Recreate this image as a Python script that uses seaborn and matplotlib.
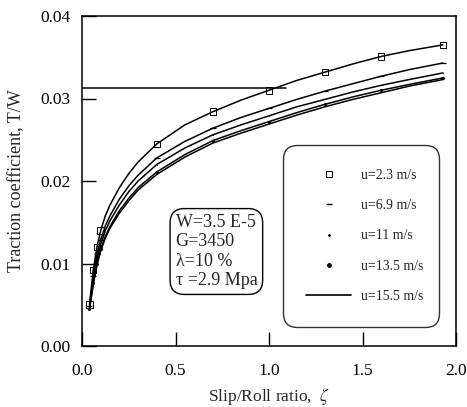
import numpy as np
import pandas as pd
import seaborn as sns
import matplotlib
matplotlib.use("Agg")
import matplotlib.pyplot as plt
from matplotlib.lines import Line2D

# ---- data ----
zeta = [0.04, 0.06, 0.08, 0.10, 0.125, 0.15, 0.20, 0.25, 0.30, 0.40, 0.55, 0.70, 0.85,
        1.00, 1.15, 1.30, 1.45, 1.60, 1.75, 1.93]
t_u23 = [0.0050, 0.0092, 0.0120, 0.0140, 0.0158, 0.0171, 0.0192, 0.0209, 0.0223,
         0.0245, 0.0268, 0.0284, 0.0298, 0.0310, 0.0322, 0.0332, 0.0342, 0.0351,
         0.0358, 0.0365]
t_u69 = [0.0048, 0.0085, 0.0111, 0.0129, 0.0146, 0.0158, 0.0178, 0.0194, 0.0207,
         0.0228, 0.0248, 0.0264, 0.0277, 0.0288, 0.0299, 0.0309, 0.0318, 0.0327,
         0.0335, 0.0343]
t_u11 = [0.0046, 0.0080, 0.0106, 0.0123, 0.0140, 0.0152, 0.0171, 0.0187, 0.0200,
         0.0220, 0.0240, 0.0256, 0.0268, 0.0279, 0.0290, 0.0299, 0.0308, 0.0316,
         0.0323, 0.0331]
t_u135 = [0.0045, 0.0076, 0.0100, 0.0117, 0.0133, 0.0145, 0.0164, 0.0179, 0.0192,
          0.0211, 0.0232, 0.0249, 0.0261, 0.0272, 0.0283, 0.0293, 0.0302, 0.0310,
          0.0317, 0.0325]
t_u155 = [0.0045, 0.0074, 0.0098, 0.0115, 0.0131, 0.0143, 0.0161, 0.0176, 0.0189,
          0.0208, 0.0229, 0.0246, 0.0258, 0.0269, 0.0280, 0.0290, 0.0299, 0.0307,
          0.0315, 0.0323]
marker_zeta = [0.04, 0.06, 0.08, 0.10, 0.40, 0.70, 1.00, 1.30, 1.60, 1.93]
labels = ["u=2.3 m/s", "u=6.9 m/s", "u=11 m/s", "u=13.5 m/s", "u=15.5 m/s"]
hline_y = 0.0313
hline_x = [0.0, 1.09]
x_ticks = [0.0, 0.5, 1.0, 1.5, 2.0]
y_ticks = [0.00, 0.01, 0.02, 0.03, 0.04]
info_text = "W=3.5 E-5\nG=3450\n\u03bb=10 %\n\u03c4 =2.9 Mpa"

series = [t_u23, t_u69, t_u11, t_u135, t_u155]
df = pd.concat([pd.DataFrame({"zeta": zeta, "T": s, "u": lab})
                for s, lab in zip(series, labels)], ignore_index=True)

sns.set_style("ticks")
plt.rcParams["font.family"] = ["Liberation Serif", "DejaVu Serif"]
plt.rcParams["mathtext.fontset"] = "stix"

fig = plt.figure(figsize=(4.67, 4.07), dpi=100)
ax = fig.add_axes([82/467, 1-346/407, (456-82)/467, (346-16)/407])

sns.lineplot(data=df, x="zeta", y="T", units="u", estimator=None,
             color="black", lw=1.1, ax=ax, legend=False)

mstyles = [dict(marker="s", s=22, facecolors="none", edgecolors="black", linewidths=0.7),
           dict(marker="_", s=22, color="black", linewidths=0.9),
           dict(marker=".", s=3, color="black"),
           dict(marker="o", s=6, color="black"),
           None]
for s, lab, ms in zip(series, labels, mstyles):
    if ms is None:
        continue
    sub = pd.DataFrame({"zeta": zeta, "T": s})
    sub = sub[sub["zeta"].isin(marker_zeta)]
    sns.scatterplot(data=sub, x="zeta", y="T", ax=ax, legend=False, **ms)

ax.plot(hline_x, [hline_y, hline_y], color="black", lw=1.1)

ax.set_xlim(0, 2.0)
ax.set_ylim(0, 0.04)
ax.set_xticks(x_ticks)
ax.set_yticks(y_ticks)
ax.set_xticklabels([f"{v:.1f}" for v in x_ticks])
ax.set_yticklabels([f"{v:.2f}" for v in y_ticks])
ax.tick_params(direction="in", length=10, width=1, labelsize=12.5,
               colors="black", top=False, right=False)
ax.tick_params(axis="x", pad=12)
ax.tick_params(axis="y", pad=8)
for sp in ax.spines.values():
    sp.set_visible(True)
    sp.set_color("black")
    sp.set_linewidth(1.1)
ax.set_xlabel("Slip/Roll ratio,  $\\zeta$", fontsize=12.5, labelpad=5)
ax.set_ylabel("Traction coefficient, T/W", fontsize=13, labelpad=11)

ax.text(0.25, 0.40, info_text, transform=ax.transAxes, fontsize=13,
        va="top", ha="left", linespacing=1.18,
        bbox=dict(boxstyle="round,pad=0.3,rounding_size=0.8", fc="white",
                  ec="black", lw=1.0))

handles = [Line2D([], [], ls="none", marker="s", ms=4, mfc="none", mec="black", mew=0.7),
           Line2D([], [], ls="none", marker="_", ms=5, color="black"),
           Line2D([], [], ls="none", marker=".", ms=2, color="black"),
           Line2D([], [], ls="none", marker="o", ms=2.5, color="black"),
           Line2D([], [], ls="-", color="black", lw=1.2)]
leg = ax.legend(handles, labels, loc="upper left",
                bbox_to_anchor=(0.537, 0.609, 0.417, 0.0), mode="expand",
                fontsize=10, frameon=True, fancybox=True, handlelength=3.2,
                handletextpad=0.7, labelspacing=1.25, borderpad=1.7,
                borderaxespad=0)
frame = leg.get_frame()
frame.set_edgecolor("black")
frame.set_linewidth(1.0)
frame.set_boxstyle("round,pad=0,rounding_size=1.0")

fig.savefig("out.png", dpi=100)
